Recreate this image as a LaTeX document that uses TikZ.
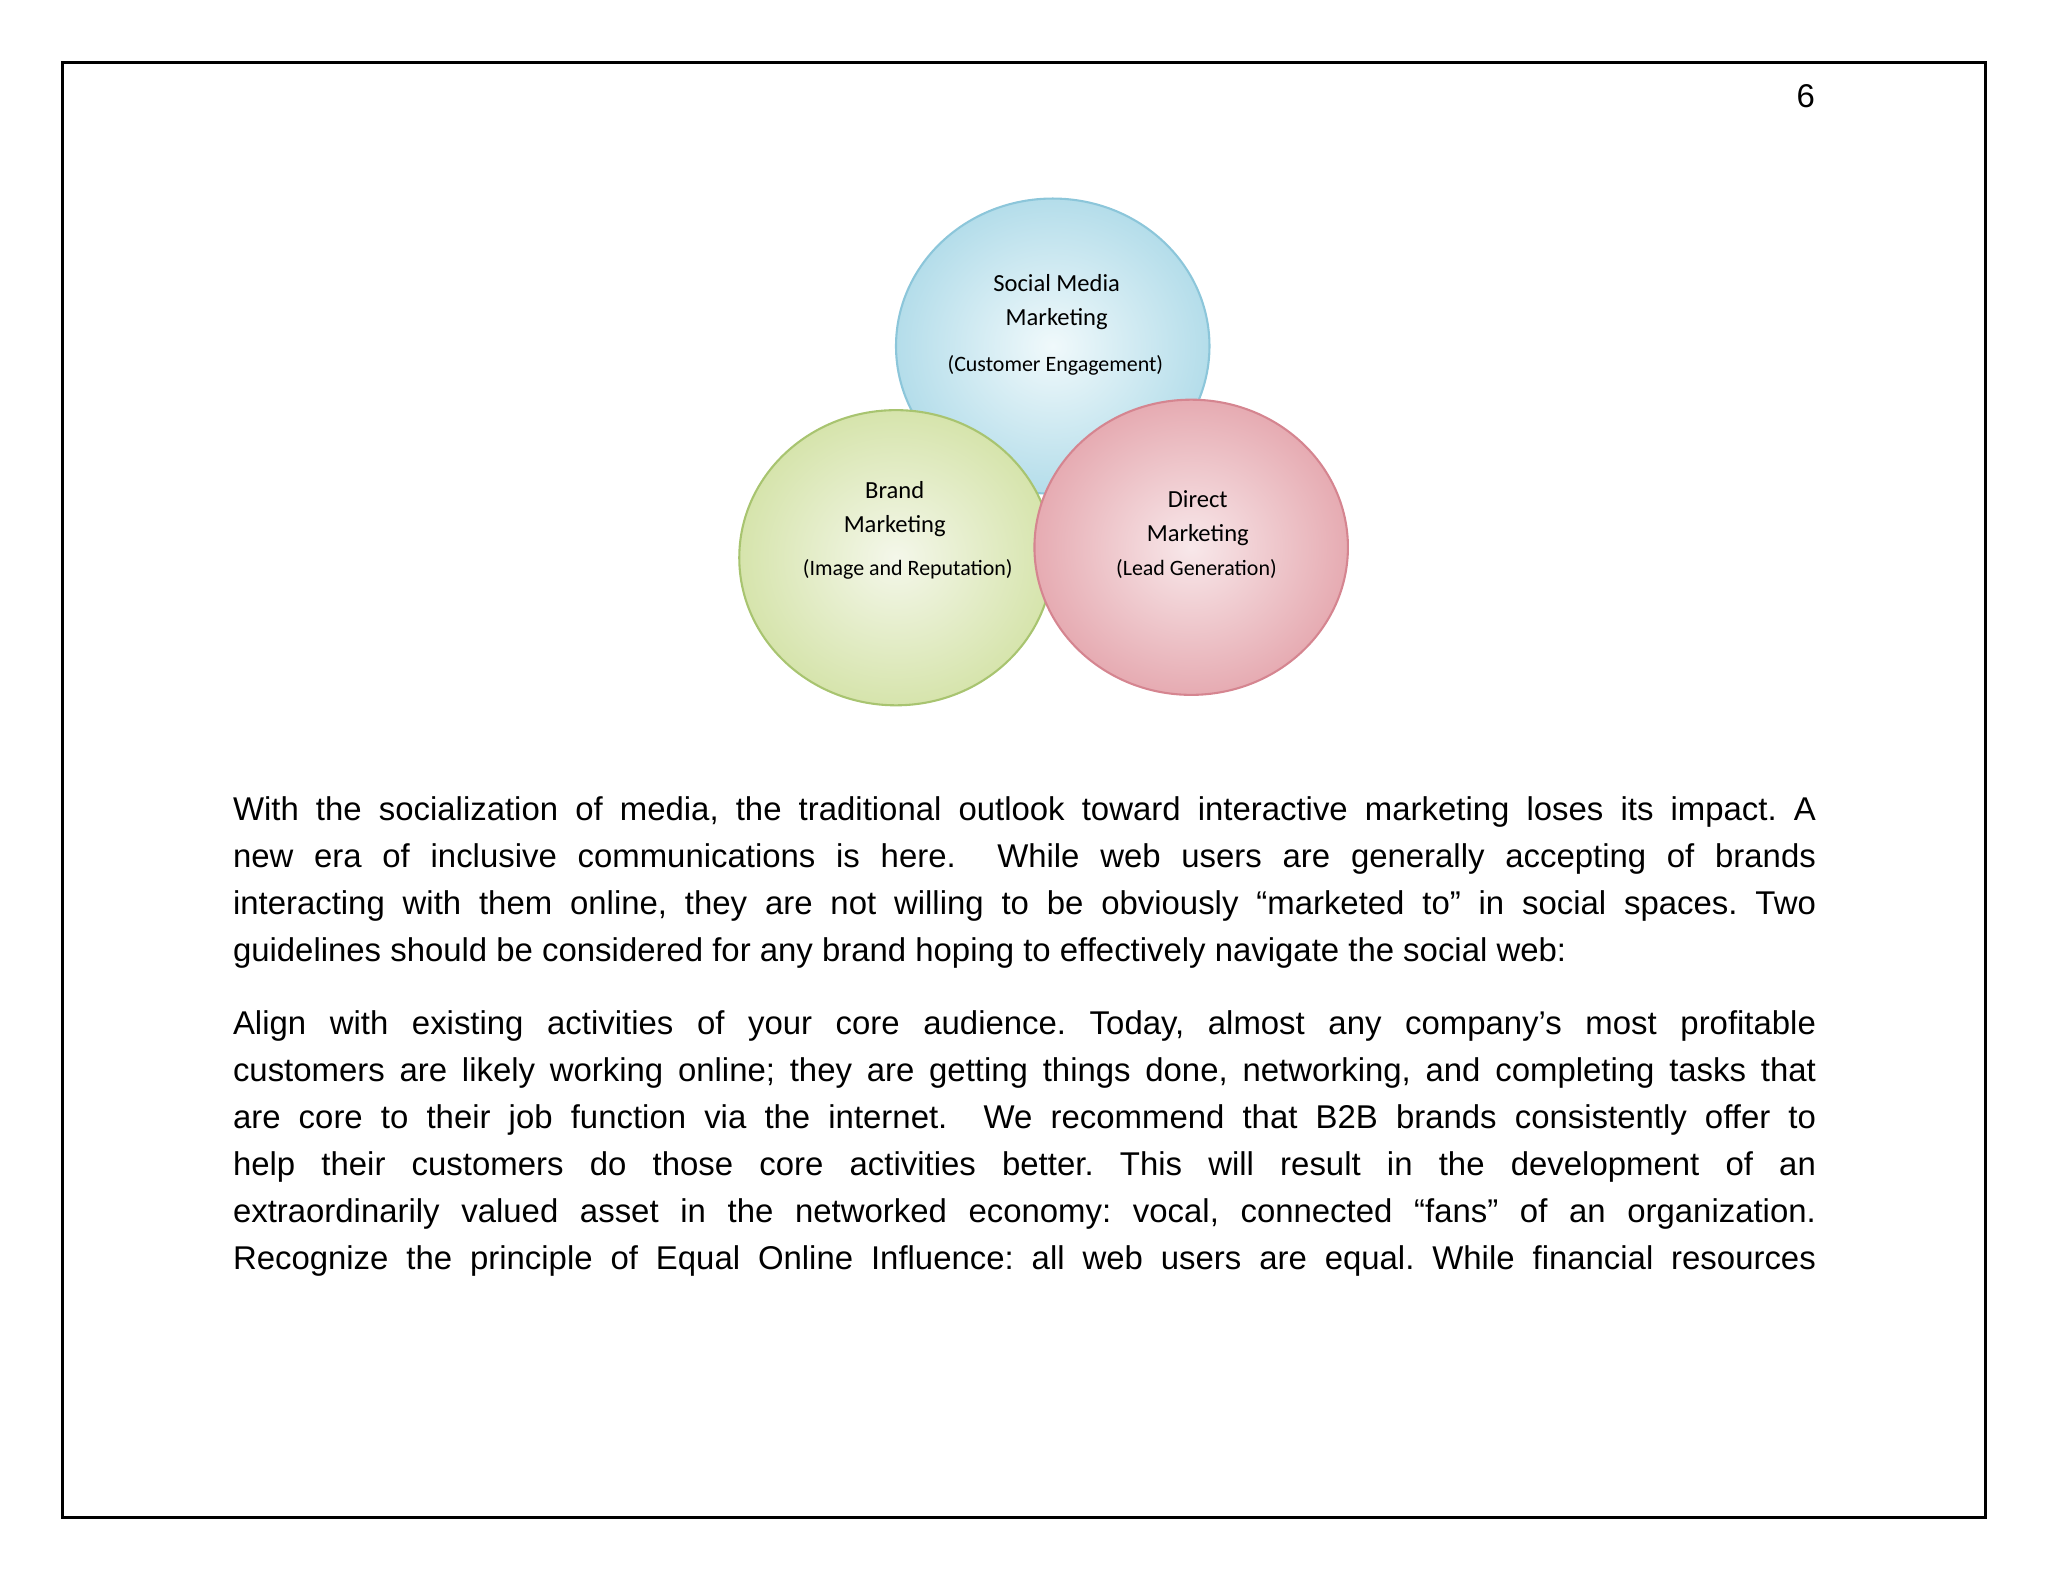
\documentclass[tikz,border=0pt]{standalone}
\usepackage{fontspec}
\setmainfont{Liberation Sans}
\newfontfamily\calfont{Carlito}
\usetikzlibrary{shapes.geometric}
\definecolor{bluefill}{HTML}{B4DDEA}
\definecolor{bluein}{HTML}{F0F9FB}
\definecolor{bluedraw}{HTML}{8CC6DA}
\definecolor{greenfill}{HTML}{D6E4AC}
\definecolor{greenin}{HTML}{F4F7EA}
\definecolor{greendraw}{HTML}{A8C470}
\definecolor{redfill}{HTML}{E6ABB2}
\definecolor{redin}{HTML}{F8E8EA}
\definecolor{reddraw}{HTML}{D58590}
\tikzset{
  x=0.5pt,y=-0.5pt,
  bodyline/.style={anchor=base west,inner sep=0pt,font=\fontsize{12.6}{15}\selectfont},
  ctext/.style={align=center,font=\calfont\fontsize{9.4}{13}\selectfont,inner sep=0pt},
  csmall/.style={align=center,font=\calfont\fontsize{8.4}{10}\selectfont,inner sep=0pt}
}
\newcommand{\jl}[1]{\makebox[606pt][s]{#1}}
\begin{document}
\frenchspacing
\begin{tikzpicture}
\useasboundingbox (0,0) rectangle (1568,1211);
\draw[line width=1pt] (48,48) rectangle (1520,1162);
\node[anchor=base east,font=\fontsize{12.6}{15}\selectfont,inner sep=0pt] (pg) at (1390,82) {6};
% circles
\shade[inner color=bluein,outer color=bluefill,draw=bluedraw,line width=0.8pt] (806,265) ellipse [x radius=120,y radius=113];
\shade[inner color=greenin,outer color=greenfill,draw=greendraw,line width=0.8pt] (686,427) ellipse [x radius=120,y radius=113];
\shade[inner color=redin,outer color=redfill,draw=reddraw,line width=0.8pt] (912,419) ellipse [x radius=120,y radius=113];
\node[ctext] (sm) at (809,231) {Social Media\\Marketing};
\node[csmall] (smc) at (808,280) {(Customer Engagement)};
\node[ctext] (bm) at (685,390) {Brand\\Marketing};
\node[csmall] (bmc) at (695,436) {(Image and Reputation)};
\node[ctext] (dm) at (917,397) {Direct\\Marketing};
\node[csmall] (dmc) at (916,436) {(Lead Generation)};
% body text
\node[bodyline] (l1) at (178,628) {\jl{With the socialization of media, the traditional outlook toward interactive marketing loses its impact. A}};
\node[bodyline] (l2) at (178,664) {\jl{new era of inclusive communications is here. \ While web users are generally accepting of brands}};
\node[bodyline] (l3) at (178,700) {\jl{interacting with them online, they are not willing to be obviously “marketed to” in social spaces. Two}};
\node[bodyline] (l4) at (178,736) {guidelines should be considered for any brand hoping to effectively navigate the social web:};
\node[bodyline] (m1) at (178,792) {\jl{Align with existing activities of your core audience. Today, almost any company’s most profitable}};
\node[bodyline] (m2) at (178,828) {\jl{customers are likely working online; they are getting things done, networking, and completing tasks that}};
\node[bodyline] (m3) at (178,864) {\jl{are core to their job function via the internet. \ We recommend that B2B brands consistently offer to}};
\node[bodyline] (m4) at (178,900) {\jl{help their customers do those core activities better. This will result in the development of an}};
\node[bodyline] (m5) at (178,936) {\jl{extraordinarily valued asset in the networked economy: vocal, connected “fans” of an organization.}};
\node[bodyline] (m6) at (178,972) {\jl{Recognize the principle of Equal Online Influence: all web users are equal. While financial resources}};
\end{tikzpicture}
\end{document}
